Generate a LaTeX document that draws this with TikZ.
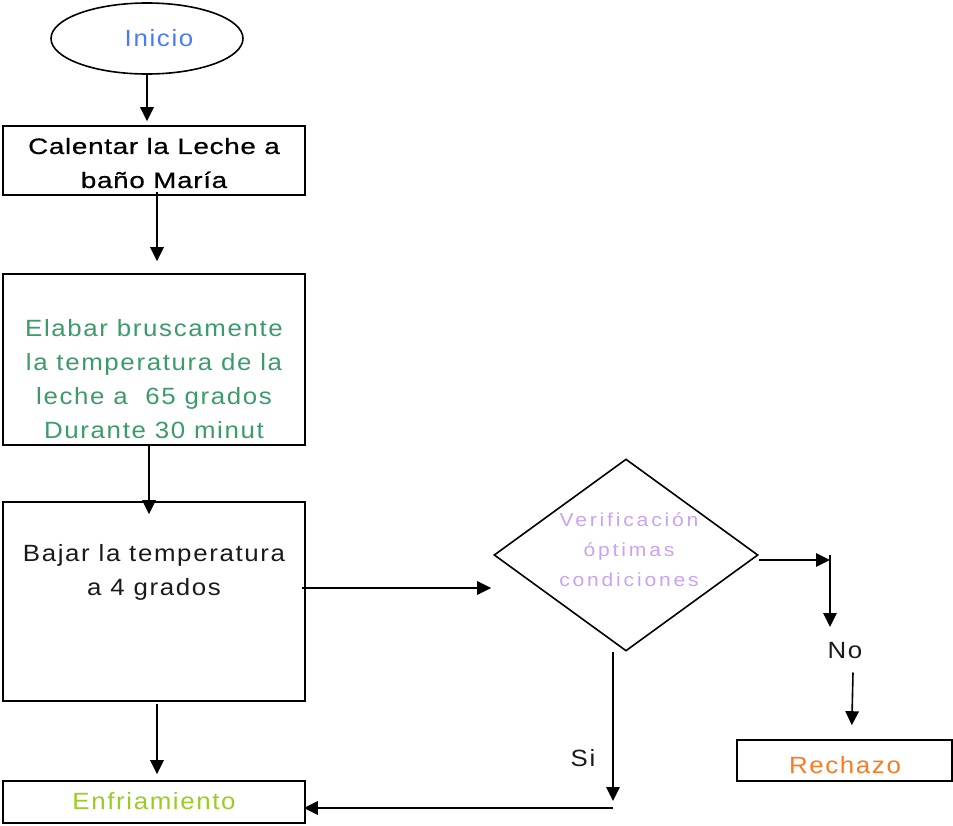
\documentclass[tikz,border=0pt]{standalone}
\usepackage{fontspec}
\setmainfont{Liberation Sans}[FakeStretch=1.1, LetterSpace=7]
\newfontfamily\boldish{Liberation Sans}[FakeStretch=1.25, LetterSpace=3, FakeBold=0.6]
\newfontfamily\diafont{Liberation Sans}[FakeStretch=1.12, LetterSpace=15]
\usetikzlibrary{shapes.geometric,arrows.meta,calc}
\definecolor{cini}{HTML}{4A7CF4}
\definecolor{cgreen}{HTML}{3B9B69}
\definecolor{clav}{HTML}{C9A2F6}
\definecolor{corange}{HTML}{FF7A1F}
\definecolor{cyg}{HTML}{9ACD22}
\definecolor{ctext}{HTML}{1A1A1A}
\begin{document}
\begin{tikzpicture}[x=1pt,y=-1pt, line width=1.6pt,
  box/.style={draw, rectangle, inner sep=0pt},
  arr/.style={-{Triangle[length=14pt,width=13.5pt]}},
  txt/.style={font=\fontsize{23.5}{34}\selectfont, text=ctext, align=center, inner sep=0pt},
  dtxt/.style={font=\diafont\fontsize{18.8}{30}\selectfont, text=clav, align=center, inner sep=0pt}]
\useasboundingbox (0,0) rectangle (953,825);
% shapes
\node[draw, ellipse, minimum width=192, minimum height=71, inner sep=0pt] (ini) at (147,38.5) {};
\node[txt, text=cini] (initxt) at (159,38.5) {Inicio};
\node[box, minimum width=302, minimum height=69] (b1) at (154,160.5) {};
\node[txt, font=\boldish\fontsize{22.3}{34}\selectfont, text=black] (b1t) at (154,163) {Calentar la Leche a\\baño María};
\node[box, minimum width=302, minimum height=171] (b2) at (154,359.5) {};
\node[txt, text=cgreen] (b2t) at (154,379) {Elabar bruscamente\\la temperatura de la\\leche a\ \ 65 grados\\Durante 30 minut};
\node[box, minimum width=302, minimum height=199] (b3) at (154,601.5) {};
\node[txt] (b3t) at (154,572) {Bajar la temperatura\\a 4 grados};
\node[box, minimum width=302, minimum height=42] (enf) at (154,802) {};
\node[txt, text=cyg] (enft) at (154,801) {Enfriamiento};
\node[draw, diamond, minimum width=264, minimum height=192, inner sep=0pt] (dia) at (626,555) {};
\node[dtxt] (diat) at (629,550) {Verificación\\óptimas\\condiciones};
\node[box, minimum width=215, minimum height=41] (rech) at (844.5,760.5) {};
\node[txt, text=corange] (recht) at (845,765) {Rechazo};
\node[txt] (no) at (845,650.5) {No};
\node[txt] (si) at (583,758.5) {Si};
% helper coordinates
\coordinate (n1) at (830,560);
\coordinate (n2) at (830,555);
\coordinate (n3) at (830,627);
\coordinate (s1) at (613,801);
\coordinate (s2) at (613,808);
% connectors
\draw[arr, shorten >=4pt] (ini.south) -- (ini.south |- b1.north);
\draw[arr] ([xshift=3pt,yshift=4pt]b1.south) -- ([xshift=3pt,yshift=12pt]b2.north);
\draw[arr] ([xshift=-5pt]b2.south) -- ([xshift=-5pt,yshift=-13pt]b3.north);
\draw[arr] ([xshift=3pt,yshift=-2pt]b3.south) -- ([xshift=3pt,yshift=6pt]enf.north);
\draw[arr] ([xshift=-4pt,yshift=13.5pt]b3.east) -- ([xshift=-2pt,yshift=-33pt]dia.west);
\draw[arr] ([yshift=-5pt]dia.east) -- (n1);
\draw[arr] (n2) -- (n3);
\draw[arr, shorten >=14pt] ([xshift=8pt,yshift=-13pt]no.south) -- ([xshift=7pt]rech.north);
\draw[arr] ([xshift=-13pt]dia.south) -- (s1);
\draw[arr] (s2) -- ([xshift=-2pt]enf.east |- s2);
\end{tikzpicture}
\end{document}
